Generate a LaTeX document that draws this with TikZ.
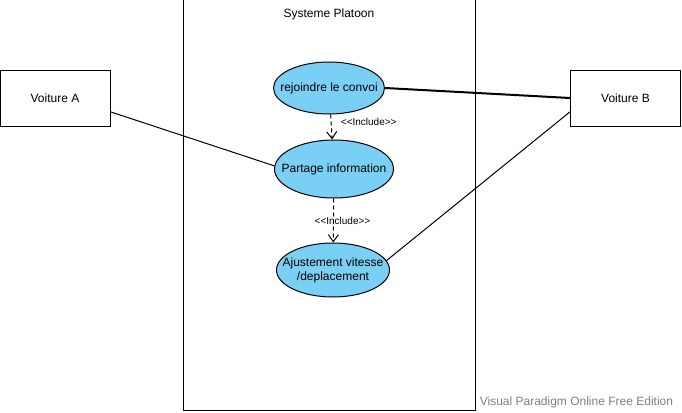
\documentclass[tikz,border=0pt]{standalone}
\usepackage{fontspec}
\setmainfont{Liberation Sans}
\usetikzlibrary{arrows.meta}
\usetikzlibrary{shapes.geometric}
\definecolor{ucfill}{RGB}{122,207,245}

\begin{document}
\begin{tikzpicture}[x=1pt,y=-1pt,>={Straight Barb[open,length=7pt,width=10pt]},
  font=\fontsize{12}{14}\selectfont,line width=1pt,
  actor/.style={draw,rectangle,minimum width=110pt,minimum height=56pt,inner sep=0pt},
  usecase/.style={draw,ellipse,fill=ucfill,inner sep=0pt},
  incl/.style={font=\fontsize{10}{12}\selectfont}]
\useasboundingbox (0,0) rectangle (682,412);
\draw (183,0) rectangle (475,410);
\node(titre) at (329,14) {Systeme Platoon};

\node[actor](voitureA) at (55,98) {Voiture A};
\node[actor](voitureB) at (625.5,98) {Voiture B};

\node[usecase,minimum width=111pt,minimum height=52pt,label={center:rejoindre le convoi}](rejoindre) at (329,88) {};
\node[usecase,minimum width=119pt,minimum height=58pt,label={center:Partage information}](partage) at (334,169) {};
\node[usecase,minimum width=113pt,minimum height=54pt,label={[align=center]center:Ajustement vitesse\\/deplacement}](ajustement) at (333,270) {};

\draw[->,dash pattern=on 4pt off 3pt] (rejoindre) to node[incl,right,pos=.3,xshift=6pt]{<\kern0pt<Include>\kern0pt>} (partage);
\draw[->,dash pattern=on 4pt off 3pt] (partage) to node[incl,pos=.5,xshift=9pt]{<\kern0pt<Include>\kern0pt>} (ajustement);

\draw (voitureA.346) -- (partage.177);
\draw[line width=2pt] (rejoindre.east) -- (voitureB.west);
\draw (voitureB.194) -- (ajustement.10);

\node[anchor=west,text=gray](edition) at (476,402) {Visual Paradigm Online Free Edition};
\end{tikzpicture}
\end{document}
